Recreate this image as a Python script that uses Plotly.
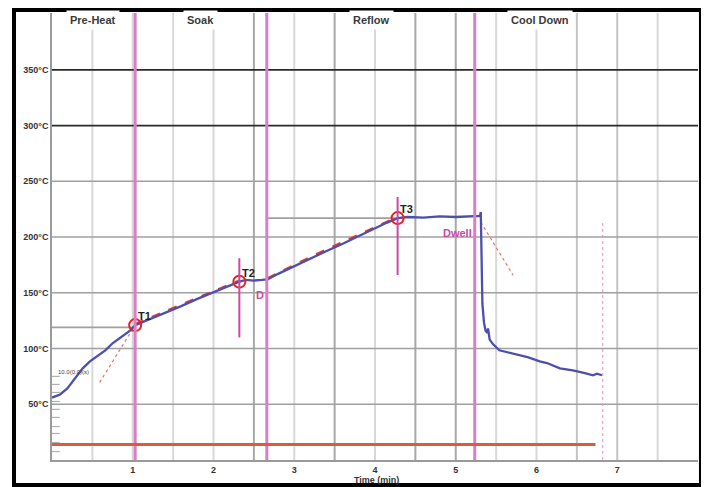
import plotly.graph_objects as go

# ---------------- data ----------------
time_min = [0.00, 0.10, 0.19, 0.28, 0.38, 0.47, 0.56, 0.66, 0.75, 0.87, 0.97, 1.03,
            1.20, 1.40, 1.60, 1.80, 2.00, 2.15, 2.32,
            2.40, 2.50, 2.60, 2.67,
            2.80, 3.00, 3.20, 3.40, 3.60, 3.80, 4.00, 4.15, 4.28,
            4.40, 4.60, 4.80, 5.00, 5.15, 5.30, 5.31,
            5.32, 5.33, 5.35, 5.37, 5.39, 5.40, 5.42, 5.46, 5.54, 5.62, 5.71,
            5.90, 6.04, 6.13, 6.29, 6.45, 6.60, 6.70, 6.75, 6.81]
temp_c = [56.0, 58.8, 64.2, 73.2, 82.2, 88.5, 93.0, 98.4, 104.7, 111.0, 116.3, 121.0,
          126.0, 132.0, 138.0, 144.5, 150.5, 155.0, 160.0,
          161.5, 161.0, 161.5, 162.0,
          167.0, 174.0, 181.0, 187.5, 194.0, 201.0, 208.0, 213.0, 217.0,
          218.0, 217.5, 218.5, 218.0, 218.5, 219.0, 222.5,
          190.0, 140.0, 123.0, 116.0, 114.0, 118.0, 108.0, 104.0, 98.4, 97.0, 95.7,
          92.0, 88.5, 87.0, 82.2, 80.5, 78.0, 76.0, 77.5, 76.0]

tp_labels = ["T1", "T2", "T3"]
tp_time = [1.03, 2.32, 4.28]
tp_temp = [121.0, 160.0, 217.0]

slope_seg_time = [[1.03, 1.40, 1.80, 2.32], [2.67, 3.20, 3.80, 4.28]]
slope_seg_temp = [[122.0, 133.0, 145.5, 161.0], [163.0, 182.0, 202.0, 218.0]]

tangent1_time = [0.59, 1.03]
tangent1_temp = [69.6, 121.0]
tangent_cool_time = [5.31, 5.71]
tangent_cool_temp = [213.4, 165.8]

phase_names = ["Pre-Heat", "Soak", "Reflow", "Cool Down"]
phase_label_time = [0.51, 1.84, 3.96, 6.04]
phase_bounds = [1.03, 2.66, 5.235]

marker_time = [2.32, 4.28]
marker_low = [110.0, 166.0]
marker_high = [181.0, 236.0]

baseline_temp = 14.0
baseline_end = 6.73
end_time = 6.82
end_line_top = 213.0

t1_level = 119.0
reflow_level = 217.0
reflow_level_span = [2.66, 4.28]

y_ticks = [50, 100, 150, 200, 250, 300, 350]
y_tick_text = ["50°C", "100°C", "150°C", "200°C", "250°C", "300°C", "350°C"]
y_dark = [300, 350]
x_ticks = [1, 2, 3, 4, 5, 6, 7]
x_grid = [0.5, 1.0, 1.5, 2.0, 2.5, 3.0, 3.5, 4.0, 4.5, 5.0, 5.5, 6.0, 6.5, 7.0, 7.5]
x_grid_dark = [2.5, 3.5, 4.5, 5.0]
x_grid_mid = [6.5, 7.0]
minor_y = [7.6, 15.7, 23.8, 30.0, 38.2, 45.4, 52.5, 60.6, 67.8, 75.0]

X_RANGE = [0, 8.0]
Y_RANGE = [0, 401]

FONT = "Liberation Sans, Arial"

# ---------------- figure ----------------
fig = go.Figure()
shapes = []

# vertical grid
for gx in x_grid:
    col = "#a8a8a8" if gx in x_grid_dark else ("#c4c4c4" if gx in x_grid_mid else "#d8d8d8")
    shapes.append(dict(type="line", xref="x", yref="paper", x0=gx, x1=gx, y0=0, y1=1,
                       line=dict(color=col, width=2), layer="below"))
# horizontal grid
for gy in y_ticks:
    col = "#2a2a2a" if gy in y_dark else "#a0a0a0"
    shapes.append(dict(type="line", xref="paper", yref="y", x0=0, x1=1, y0=gy, y1=gy,
                       line=dict(color=col, width=1.6), layer="below"))
# minor ticks on y axis
for my in minor_y:
    shapes.append(dict(type="line", xref="paper", yref="y", x0=0, x1=0.012, y0=my, y1=my,
                       line=dict(color="#b0b0b0", width=1.2), layer="below"))
# level lines
shapes.append(dict(type="line", xref="x", yref="y", x0=0, x1=tp_time[0], y0=t1_level, y1=t1_level,
                   line=dict(color="#a0a0a0", width=1.6), layer="below"))
shapes.append(dict(type="line", xref="x", yref="y", x0=reflow_level_span[0], x1=reflow_level_span[1],
                   y0=reflow_level, y1=reflow_level, line=dict(color="#a0a0a0", width=1.6), layer="below"))
# phase boundaries
for pb in phase_bounds:
    shapes.append(dict(type="line", xref="x", yref="paper", x0=pb, x1=pb, y0=0, y1=1,
                       line=dict(color="#dc7fc2", width=3)))
# baseline
shapes.append(dict(type="line", xref="x", yref="y", x0=0, x1=baseline_end, y0=baseline_temp, y1=baseline_temp,
                   line=dict(color="#df5a3c", width=3)))
# end dotted line
shapes.append(dict(type="line", xref="x", yref="y", x0=end_time, x1=end_time, y0=0, y1=end_line_top,
                   line=dict(color="#ee8fc8", width=1, dash="dot")))
# marker lines
for mt, lo, hi in zip(marker_time, marker_low, marker_high):
    shapes.append(dict(type="line", xref="x", yref="y", x0=mt, x1=mt, y0=lo, y1=hi,
                       line=dict(color="#c94aa6", width=2)))
# outer frame
shapes.append(dict(type="rect", xref="paper", yref="paper", x0=-0.0588, x1=1.0046, y0=-0.0559, y1=1.0067,
                   line=dict(color="#000000", width=4), fillcolor="rgba(0,0,0,0)"))

# tangent lines
fig.add_trace(go.Scatter(x=tangent1_time, y=tangent1_temp, mode="lines",
                         line=dict(color="#f07070", width=1.2, dash="dot"), hoverinfo="skip"))
fig.add_trace(go.Scatter(x=tangent_cool_time, y=tangent_cool_temp, mode="lines",
                         line=dict(color="#f07070", width=1.2, dash="dot"), hoverinfo="skip"))
# red slope overlays
for st, sv in zip(slope_seg_time, slope_seg_temp):
    fig.add_trace(go.Scatter(x=st, y=sv, mode="lines",
                             line=dict(color="#e8382e", width=2.5, dash="dash"), hoverinfo="skip"))
# profile curve
fig.add_trace(go.Scatter(x=time_min, y=temp_c, mode="lines",
                         line=dict(color="#4b4fae", width=2.3), hoverinfo="skip"))
# T points
fig.add_trace(go.Scatter(x=tp_time, y=tp_temp, mode="markers",
                         marker=dict(symbol="circle-open", size=12, color="#e82020", line=dict(width=2)),
                         hoverinfo="skip"))

annotations = []
for name, tt, tv in zip(tp_labels, tp_time, tp_temp):
    annotations.append(dict(x=tt, y=tv, xref="x", yref="y", text="<b>" + name + "</b>", showarrow=False,
                            xshift=9, yshift=9, font=dict(family=FONT, size=11, color="#222")))
for name, pt in zip(phase_names, phase_label_time):
    annotations.append(dict(x=pt, y=0.984, xref="x", yref="paper", yanchor="middle",
                            text="<b>" + name + "</b>", showarrow=False,
                            bgcolor="#ffffff", borderpad=3,
                            font=dict(family=FONT, size=11, color="#3a3a3a")))
annotations.append(dict(x=2.57, y=148, xref="x", yref="y", text="<b>D</b>", showarrow=False,
                        font=dict(family=FONT, size=11, color="#c94aa6")))
annotations.append(dict(x=5.02, y=203.5, xref="x", yref="y", text="<b>Dwell</b>", showarrow=False,
                        font=dict(family=FONT, size=11, color="#c94aa6")))
annotations.append(dict(x=0.26, y=79, xref="x", yref="y", text="10.0(0.0)(s)", showarrow=False,
                        font=dict(family=FONT, size=6, color="#444")))
annotations.append(dict(x=4.02, y=-0.029, xref="x", yref="paper", yanchor="top",
                        text="<b>Time (min)</b>", showarrow=False,
                        font=dict(family=FONT, size=9, color="#333")))

# the page body has an 8px margin, so the figure is sized/offset to land the plot area in place
fig.update_layout(
    width=701, height=479,
    margin=dict(l=44, r=11, t=5, b=27),
    paper_bgcolor="#ffffff", plot_bgcolor="#ffffff",
    showlegend=False,
    shapes=shapes,
    annotations=annotations,
    xaxis=dict(range=X_RANGE, showgrid=False, zeroline=False, tickvals=x_ticks,
               ticktext=["<b>%d</b>" % v for v in x_ticks], ticks="",
               showline=True, linecolor="#9a9a9a", linewidth=1.5,
               tickfont=dict(family=FONT, size=9, color="#333")),
    yaxis=dict(range=Y_RANGE, showgrid=False, zeroline=False, tickvals=y_ticks,
               ticktext=["<b>%s</b>" % s for s in y_tick_text], ticks="",
               showline=True, linecolor="#9a9a9a", linewidth=1.5,
               tickfont=dict(family=FONT, size=9, color="#333")),
)

fig.write_html("out.html")
